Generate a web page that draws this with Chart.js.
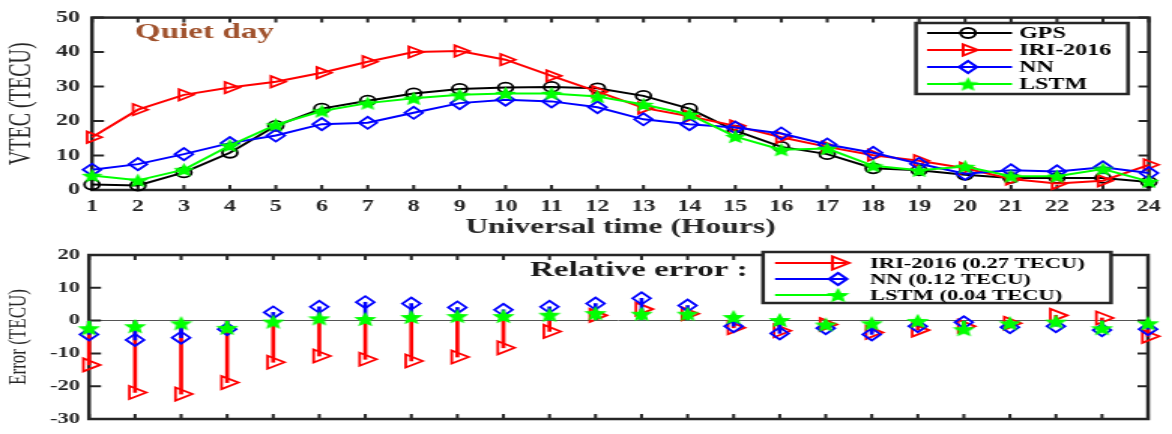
<!DOCTYPE html>
<html>
<head>
<meta charset="utf-8">
<script src="https://cdn.jsdelivr.net/npm/chart.js@4.4.0/dist/chart.umd.min.js"></script>
<style>
  html, body { margin: 0; padding: 0; background: #fff; }
  #wrap { position: relative; width: 1172px; height: 434px; overflow: hidden; }
  /* the figure is wide and squat: draw narrow, then stretch sideways */
  canvas { position: absolute; left: 0; transform-origin: 0 0; transform: scaleX(1.5026); }
  #top { top: 0; }
  #bottom { top: 240px; }
</style>
</head>
<body>
<div id="wrap">
  <canvas id="top" width="780" height="240"></canvas>
  <canvas id="bottom" width="780" height="194"></canvas>
</div>
<script>
// ---------- data ----------
const hours = [1,2,3,4,5,6,7,8,9,10,11,12,13,14,15,16,17,18,19,20,21,22,23,24];

const gps  = [1.6,1.3,5.1,10.8,18.6,23.6,25.9,28.0,29.3,29.7,29.9,29.5,27.3,23.6,17.2,12.5,10.4,6.3,5.7,4.4,3.5,3.5,3.5,2.3];
const iri  = [15.3,23.3,27.6,29.7,31.4,34.0,37.2,40.0,40.3,37.8,33.1,28.5,23.8,21.4,18.6,15.3,12.5,10.1,8.5,6.3,3.2,1.9,2.7,7.3];
const nn   = [5.9,7.5,10.4,13.6,15.8,19.1,19.5,22.4,25.2,26.2,25.7,24.0,20.5,19.1,18.1,16.4,13.2,10.8,7.6,4.7,5.7,5.4,6.6,4.9];
const lstm = [4.2,2.8,5.9,12.9,18.9,22.9,25.2,26.6,27.6,28.0,28.0,27.1,24.8,21.9,15.5,11.7,12.0,7.0,5.7,6.8,4.0,4.0,6.1,2.5];

const errIri  = [-13.5,-21.9,-22.4,-18.9,-12.7,-10.8,-11.8,-12.3,-11.1,-8.3,-3.3,1.6,3.5,2.1,-2.2,-3.1,-1.2,-3.6,-2.9,-1.7,-0.8,1.6,0.8,-4.8];
const errNn   = [-4.2,-5.9,-5.2,-2.6,2.5,4.2,5.6,5.2,4.0,3.3,4.2,5.2,6.8,4.6,-1.7,-3.9,-2.3,-4.2,-1.7,-0.5,-2.0,-1.7,-2.9,-2.6];
const errLstm = [-2.3,-1.7,-0.8,-2.2,-0.3,0.7,0.5,1.1,1.4,1.4,1.8,2.3,2.1,2.1,1.1,0.2,-1.2,-0.8,-0.1,-2.6,-0.8,-0.3,-2.3,-0.8];

const vtecTicks  = [0,10,20,30,40,50];
const errorTicks = [-30,-20,-10,0,10,20];
const errLabels  = ['IRI-2016 (0.27 TECU)', 'NN (0.12 TECU)', 'LSTM (0.04 TECU)'];

// ---------- helpers ----------
const S = 1172 / 780;           // horizontal stretch
const px = v => v / S;          // page x -> canvas x
const AX = '#262626';
const SERIF = '"Liberation Serif", "Times New Roman", serif';

function makeStar(size, color) {
    const c = document.createElement('canvas');
    c.width = c.height = size;
    const g = c.getContext('2d');
    const r = size / 2, ri = r * 0.45;
    g.beginPath();
    for (let k = 0; k < 10; k++) {
        const rr = k % 2 ? ri : r;
        const a = -Math.PI / 2 + k * Math.PI / 5;
        g.lineTo(r + rr * Math.cos(a), r + rr * Math.sin(a) + 0.8);
    }
    g.closePath();
    g.fillStyle = color;
    g.fill();
    return c;
}
const starTop = makeStar(15, '#00ff00');
const starBot = makeStar(16, '#00ff00');

// frame + inward ticks
function framePlugin(yTicks) {
    return {
        id: 'frame',
        beforeDatasetsDraw(chart) {
            const {ctx, chartArea: a, scales} = chart;
            ctx.save();
            ctx.strokeStyle = AX;
            ctx.lineWidth = 2;
            ctx.beginPath();
            hours.forEach((h, i) => {
                const x = scales.x.getPixelForValue(i);
                ctx.moveTo(x, a.bottom); ctx.lineTo(x, a.bottom - 5);
                ctx.moveTo(x, a.top); ctx.lineTo(x, a.top + 5);
            });
            yTicks.forEach(v => {
                const y = scales.y.getPixelForValue(v);
                ctx.moveTo(a.left, y); ctx.lineTo(a.left + 8, y);
                ctx.moveTo(a.right, y); ctx.lineTo(a.right - 7, y);
            });
            ctx.stroke();
            ctx.lineWidth = 2.5;
            ctx.strokeRect(a.left, a.top, a.right - a.left, a.bottom - a.top);
            ctx.restore();
        }
    };
}

// legend with line + marker, MATLAB style
function legendPlugin(cfg) {
    return {
        id: 'boxlegend',
        afterDraw(chart) {
            const ctx = chart.ctx;
            ctx.save();
            ctx.fillStyle = '#fff';
            ctx.fillRect(cfg.x0, cfg.y0, cfg.x1 - cfg.x0, cfg.y1 - cfg.y0);
            ctx.strokeStyle = AX;
            ctx.lineWidth = 2.5;
            ctx.strokeRect(cfg.x0, cfg.y0, cfg.x1 - cfg.x0, cfg.y1 - cfg.y0);
            cfg.sets.forEach((di, k) => {
                const ds = chart.data.datasets[di];
                const y = cfg.rows[k];
                ctx.strokeStyle = ds.borderColor;
                ctx.lineWidth = 2;
                ctx.beginPath();
                ctx.moveTo(cfg.lineA, y); ctx.lineTo(cfg.lineB, y);
                ctx.stroke();
                ctx.fillStyle = 'rgba(0,0,0,0)';
                Chart.helpers.drawPoint(ctx, {
                    pointStyle: ds.pointStyle, rotation: ds.pointRotation || 0,
                    radius: ds.pointRadius, borderWidth: ds.pointBorderWidth
                }, cfg.mark, y);
                ctx.fillStyle = '#000';
                ctx.font = cfg.font;
                ctx.textBaseline = 'middle';
                ctx.fillText(ds.label, cfg.text, y + 1);
            });
            ctx.restore();
        }
    };
}

function notePlugin(text, x, y, font, color) {
    return {
        id: 'note',
        afterDraw(chart) {
            const ctx = chart.ctx;
            ctx.save();
            ctx.font = font;
            ctx.fillStyle = color;
            ctx.textBaseline = 'middle';
            ctx.fillText(text, x, y);
            ctx.restore();
        }
    };
}

// ========== top: VTEC ==========
new Chart(document.getElementById('top').getContext('2d'), {
    type: 'line',
    data: {
        labels: hours,
        datasets: [
            { label: 'GPS', data: gps, borderColor: '#000000', pointStyle: 'circle', pointRadius: 5, order: 3 },
            { label: 'IRI-2016', data: iri, borderColor: '#ff0000', pointStyle: 'triangle', pointRotation: 90, pointRadius: 6.5, order: 2 },
            { label: 'NN', data: nn, borderColor: '#0000ff', pointStyle: 'rectRot', pointRadius: 6, order: 1 },
            { label: 'LSTM', data: lstm, borderColor: '#00ff00', pointStyle: starTop, pointRadius: 7, order: 0 }
        ].map(d => Object.assign({
            borderWidth: 2, pointBorderWidth: 1.8, tension: 0, clip: false,
            backgroundColor: 'rgba(0,0,0,0)', pointBackgroundColor: 'rgba(0,0,0,0)',
            pointBorderColor: d.borderColor
        }, d))
    },
    options: {
        responsive: false,
        animation: false,
        layout: { padding: { top: 14, right: 780 - px(1151), left: 0, bottom: 0 } },
        plugins: { legend: { display: false }, tooltip: { enabled: false } },
        scales: {
            x: {
                type: 'category', offset: false,
                grid: { display: false, drawTicks: false }, border: { display: false },
                ticks: { autoSkip: false, maxRotation: 0, padding: 7.4, color: AX,
                         font: { family: SERIF, size: 16, weight: 'bold' } },
                title: { display: true, text: 'Universal time (Hours)', color: AX, padding: 0,
                         font: { family: SERIF, size: 21, weight: 'bold' } },
                afterFit: s => { s.height = 50; }
            },
            y: {
                min: 0, max: 50,
                grid: { display: false, drawTicks: false }, border: { display: false },
                ticks: { stepSize: 10, padding: 8, color: AX,
                         font: { family: SERIF, size: 16, weight: 'bold' } },
                title: { display: true, text: 'VTEC (TECU)', color: AX, padding: { top: 2.7, bottom: 0 },
                         font: { family: SERIF, size: 20 } },
                afterFit: s => { s.width = px(92); }
            }
        }
    },
    plugins: [
        framePlugin(vtecTicks),
        legendPlugin({ x0: px(916), x1: px(1128), y0: 23, y1: 94,
                       lineA: px(927), lineB: px(1012), mark: px(968), text: px(1019),
                       rows: [33, 50, 67, 84], sets: [0, 1, 2, 3],
                       font: 'bold 16px ' + SERIF }),
        notePlugin('Quiet day', px(135), 32, 'bold 22px ' + SERIF, '#a0522d')
    ]
});

// ========== bottom: error stems ==========
function stem(data, color, order) {
    return { type: 'bar', data: data, backgroundColor: color, barThickness: 2,
             grouped: false, order: order, clip: false };
}
function marks(label, data, color, style, radius, order, rot) {
    return { type: 'line', label: label, data: data, showLine: false, borderColor: color,
             pointStyle: style, pointRadius: radius, pointRotation: rot || 0,
             pointBorderColor: color, pointBackgroundColor: 'rgba(0,0,0,0)',
             pointBorderWidth: 1.8, order: order, clip: false };
}

new Chart(document.getElementById('bottom').getContext('2d'), {
    type: 'line',
    data: {
        labels: hours,
        datasets: [
            marks(errLabels[0], errIri, '#ff0000', 'triangle', 7.5, 4, 90),
            marks(errLabels[1], errNn, '#0000ff', 'rectRot', 6, 2),
            marks(errLabels[2], errLstm, '#00ff00', starBot, 8, 0),
            stem(errIri, '#ff0000', 5),
            stem(errNn, '#0000ff', 3),
            stem(errLstm, '#00ff00', 1)
        ]
    },
    options: {
        responsive: false,
        animation: false,
        layout: { padding: { top: 9, right: 780 - px(1148), left: 0, bottom: 9 } },
        plugins: { legend: { display: false }, tooltip: { enabled: false } },
        scales: {
            x: { type: 'category', offset: false, display: false, grid: { offset: false } },
            y: {
                min: -30, max: 20,
                border: { display: false },
                grid: { drawTicks: false, lineWidth: 1,
                        color: c => (c.tick && c.tick.value === 0) ? '#555555' : 'rgba(0,0,0,0)' },
                ticks: { stepSize: 10, padding: 6, color: AX,
                         font: { family: SERIF, size: 15, weight: 'bold' } },
                title: { display: true, text: 'Error (TECU)', color: AX, padding: { top: 2.8, bottom: 0 },
                         font: { family: SERIF, size: 17 } },
                afterFit: s => { s.width = px(89); }
            }
        }
    },
    plugins: [
        framePlugin(errorTicks),
        legendPlugin({ x0: px(763), x1: px(1111), y0: 12, y1: 63,
                       lineA: px(775), lineB: px(846), mark: px(838), text: px(870),
                       rows: [23, 39, 55], sets: [0, 1, 2],
                       font: 'bold 15px ' + SERIF }),
        notePlugin('Relative error :', px(530), 30, 'bold 22px ' + SERIF, '#1a1a1a')
    ]
});
</script>
</body>
</html>
